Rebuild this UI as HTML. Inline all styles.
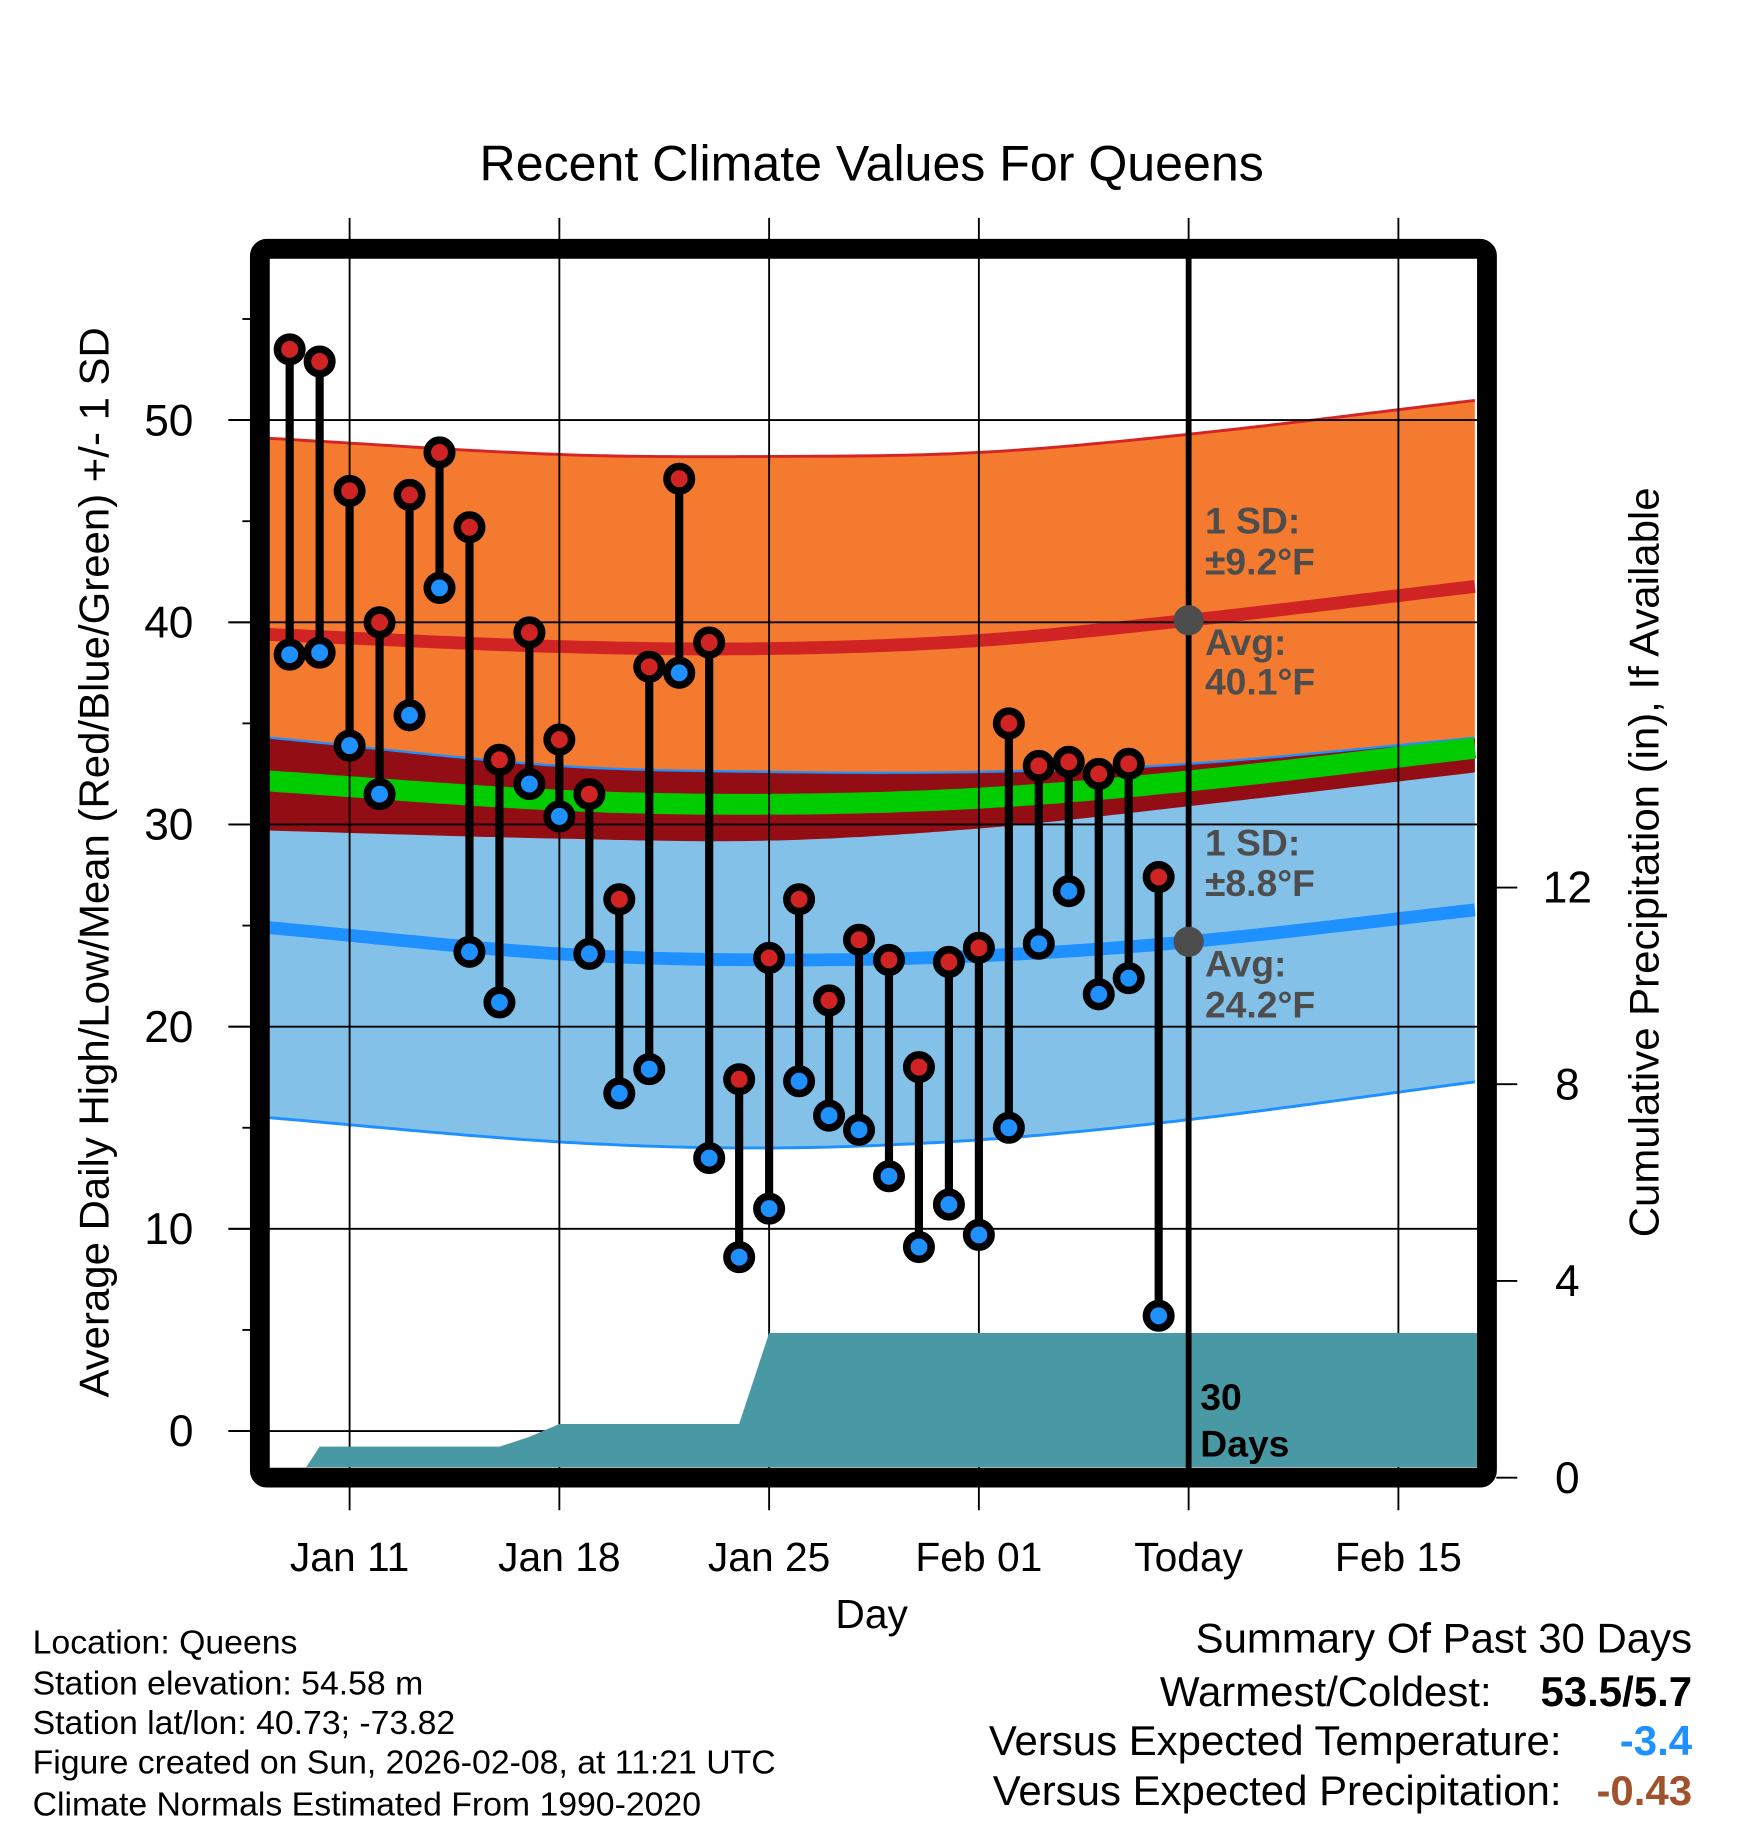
<!DOCTYPE html>
<html><head><meta charset="utf-8"><style>
html,body{margin:0;padding:0;background:#fff;}
svg{display:block;font-family:"Liberation Sans",sans-serif;}
</style></head><body>
<svg id="chart" width="1748" height="1828" viewBox="0 0 1500 1568.65" xmlns="http://www.w3.org/2000/svg">
<defs><clipPath id="plotclip"><rect x="231" y="222" width="1037" height="1037"/></clipPath></defs>
<text x="748" y="155" font-size="43" text-anchor="middle">Recent Climate Values For Queens</text>
<g id="bands" clip-path="url(#plotclip)"></g>
<g id="grid"></g>
<g id="precip" clip-path="url(#plotclip)"></g>
<g id="marks"></g>
<g id="ann"></g>
<rect x="223" y="213.5" width="1053" height="1054.5" rx="6" fill="none" stroke="#000" stroke-width="17"/>
<g id="axes"></g>
<text x="748" y="1397" font-size="35" text-anchor="middle">Day</text>
<text transform="translate(93,740) rotate(-90)" font-size="36" text-anchor="middle">Average Daily High/Low/Mean (Red/Blue/Green) +/- 1 SD</text>
<text transform="translate(1423,740) rotate(-90)" font-size="36" text-anchor="middle">Cumulative Precipitation (in), If Available</text>
<g font-size="29">
<text x="28" y="1419">Location: Queens</text>
<text x="28" y="1454">Station elevation: 54.58 m</text>
<text x="28" y="1488">Station lat/lon: 40.73; -73.82</text>
<text x="28" y="1522">Figure created on Sun, 2026-02-08, at 11:21 UTC</text>
<text x="28" y="1558">Climate Normals Estimated From 1990-2020</text>
</g>
<g font-size="36">
<text x="1452" y="1418" text-anchor="end">Summary Of Past 30 Days</text>
<text x="1280" y="1464" text-anchor="end">Warmest/Coldest:</text>
<text x="1452" y="1464" text-anchor="end" font-weight="bold">53.5/5.7</text>
<text x="1340" y="1506" text-anchor="end">Versus Expected Temperature:</text>
<text x="1452" y="1506" text-anchor="end" font-weight="bold" fill="#1e90ff">-3.4</text>
<text x="1340" y="1549" text-anchor="end">Versus Expected Precipitation:</text>
<text x="1452" y="1549" text-anchor="end" font-weight="bold" fill="#a0522d">-0.43</text>
</g>
</svg>
<script>
// day index: 0 = Jan 11
const days=[-2,-1,0,1,2,3,4,5,6,7,8,9,10,11,12,13,14,15,16,17,18,19,20,21,22,23,24,25,26,27];
const highs=[53.5,52.9,46.5,40.0,46.3,48.4,44.7,33.2,39.5,34.2,31.5,26.3,37.8,47.1,39.0,17.4,23.4,26.3,21.3,24.3,23.3,18.0,23.2,23.9,35.0,32.9,33.1,32.5,33.0,27.4];
const lows=[38.4,38.5,33.9,31.5,35.4,41.7,23.7,21.2,32.0,30.4,23.6,16.7,17.9,37.5,13.5,8.6,11.0,17.3,15.6,14.9,12.6,9.1,11.2,9.7,15.0,24.1,26.7,21.6,22.4,5.7];
const precipCum=[0,0.63,0.63,0.63,0.63,0.63,0.63,0.63,0.83,1.09,1.09,1.09,1.09,1.09,1.09,1.09,2.94,2.94,2.94,2.94,2.94,2.94,2.94,2.94,2.94,2.94,2.94,2.94,2.94,2.94];
const normDays=[-2.7,7,14,21,28,37.7];
const avgHigh=[39.4,38.8,38.7,39.1,40.1,41.8];
const sdHigh=[9.7,9.5,9.5,9.3,9.2,9.2];
const avgLow=[24.9,23.6,23.3,23.5,24.2,25.8];
const sdLow=[9.4,9.3,9.3,9.1,8.8,8.5];
const yTicks=[0,10,20,30,40,50];
const y2Ticks=[0,4,8,12];
const xTickDays=[0,7,14,21,28,35];
const xTickLabels=["Jan 11","Jan 18","Jan 25","Feb 01","Today","Feb 15"];
const todayDay=28;

const NS="http://www.w3.org/2000/svg";
const X=d=>300+d*25.714;
const Y=v=>1228-v*17.35;
const Y2=p=>1268-p*42.2;
function mk(tag,attrs,parent){const e=document.createElementNS(NS,tag);for(const k in attrs)e.setAttribute(k,attrs[k]);parent.appendChild(e);return e;}
// Catmull-Rom style smooth interpolation through normals
function interp(arr,d){
  const n=normDays.length;
  if(d<=normDays[0])return arr[0];
  if(d>=normDays[n-1])return arr[n-1];
  let i=0;while(d>normDays[i+1])i++;
  const t=(d-normDays[i])/(normDays[i+1]-normDays[i]);
  const slope=k=>{const a=Math.max(0,k-1),b=Math.min(n-1,k+1);return (arr[b]-arr[a])/(normDays[b]-normDays[a]);};
  const h=normDays[i+1]-normDays[i];
  const m0=slope(i)*h,m1=slope(i+1)*h;
  const t2=t*t,t3=t2*t;
  return (2*t3-3*t2+1)*arr[i]+(t3-2*t2+t)*m0+(-2*t3+3*t2)*arr[i+1]+(t3-t2)*m1;
}
const samp=[];for(let d=normDays[0];d<=normDays[normDays.length-1]+0.001;d+=0.25)samp.push(d);
const pts=f=>samp.map(d=>X(d).toFixed(1)+","+Y(f(d)).toFixed(1));
const band=(up,lo)=>pts(up).concat(pts(lo).reverse()).join(" ");
const bands=document.getElementById('bands');
const hUp=d=>interp(avgHigh,d)+interp(sdHigh,d), hLo=d=>interp(avgHigh,d)-interp(sdHigh,d);
const lUp=d=>interp(avgLow,d)+interp(sdLow,d), lLo=d=>interp(avgLow,d)-interp(sdLow,d);
let e;
e=mk('polygon',{points:band(hUp,hLo),fill:'#f47a2f'},bands);

e=mk('polygon',{points:band(lUp,lLo),fill:'#84c1e8'},bands);

e=mk('polygon',{points:band(d=>Math.min(lUp(d),hUp(d)),d=>Math.max(hLo(d),lLo(d))),fill:'#930d14'},bands);

e=mk('polyline',{points:pts(hUp).join(" "),fill:'none',stroke:'#d42424','stroke-width':2.5},bands);

e=mk('polyline',{points:pts(lUp).join(" "),fill:'none',stroke:'#1e90ff','stroke-width':2},bands);

e=mk('polyline',{points:pts(lLo).join(" "),fill:'none',stroke:'#1e90ff','stroke-width':2.5},bands);

e=mk('polyline',{points:pts(d=>interp(avgHigh,d)).join(" "),fill:'none',stroke:'#d02424','stroke-width':11},bands);

e=mk('polyline',{points:pts(d=>interp(avgLow,d)).join(" "),fill:'none',stroke:'#1e90ff','stroke-width':11},bands);

e=mk('polyline',{points:pts(d=>(interp(avgHigh,d)+interp(avgLow,d))/2).join(" "),fill:'none',stroke:'#00cc00','stroke-width':18},bands);


const grid=document.getElementById('grid');
yTicks.forEach(v=>{e=mk('line',{x1:196,x2:1268,y1:Y(v),y2:Y(v),stroke:'#000','stroke-width':1.6},grid);
});
xTickDays.forEach(d=>{e=mk('line',{x1:X(d),x2:X(d),y1:187,y2:1296,stroke:'#000','stroke-width':1.6},grid);
});

const pg=document.getElementById('precip');
let pp=[X(days[0])+"," +Y2(-0.3)];
for(let i=1;i<days.length;i++){pp.push(X(days[i])+","+Y2(precipCum[i]));}
pp.push(X(37.7)+","+Y2(precipCum[precipCum.length-1]));
pp.push(X(37.7)+","+Y2(-0.5));pp.push(X(days[0])+","+Y2(-0.5));
e=mk('polygon',{points:pp.join(" "),fill:'#4899a3'},pg);


const marks=document.getElementById('marks');
days.forEach((d,i)=>{
  const g=mk('g',{},marks);
  
  e=mk('line',{x1:X(d),x2:X(d),y1:Y(highs[i]),y2:Y(lows[i]),stroke:'#000','stroke-width':7},g);
  
  e=mk('circle',{cx:X(d),cy:Y(highs[i]),r:10.5,fill:'#d02424',stroke:'#000','stroke-width':6.5},g);
  
  e=mk('circle',{cx:X(d),cy:Y(lows[i]),r:10.5,fill:'#1e90ff',stroke:'#000','stroke-width':6.5},g);
  
});

const ann=document.getElementById('ann');
e=mk('line',{x1:X(todayDay),x2:X(todayDay),y1:214,y2:1262,stroke:'#000','stroke-width':5},ann);

e=mk('circle',{cx:X(todayDay),cy:Y(interp(avgHigh,todayDay)),r:13,fill:'#4d4d4d'},ann);

e=mk('circle',{cx:X(todayDay),cy:Y(interp(avgLow,todayDay)),r:13,fill:'#4d4d4d'},ann);

const labs=[["1 SD:",458],["±9.2°F",493],["Avg:",562],["40.1°F",596],["1 SD:",734],["±8.8°F",769],["Avg:",838],["24.2°F",873]];
labs.forEach(l=>{e=mk('text',{x:1034,y:l[1],'font-size':32,'font-weight':'bold',fill:'#4d4d4d'},ann);e.textContent=l[0];
});
[["30",1210],["Days",1250]].forEach(l=>{e=mk('text',{x:1030,y:l[1],'font-size':32,'font-weight':'bold',fill:'#000'},ann);e.textContent=l[0];
});

const axes=document.getElementById('axes');
for(let v=0;v<=55;v+=5){const big=v%10===0;
  e=mk('line',{x1:big?196:208,x2:216,y1:Y(v),y2:Y(v),stroke:'#000','stroke-width':1.6},axes);
  }
yTicks.forEach(v=>{e=mk('text',{x:166,y:Y(v)+13,'font-size':38,'text-anchor':'end'},axes);e.textContent=v;
});
y2Ticks.forEach(p=>{e=mk('line',{x1:1284,x2:1302,y1:Y2(p),y2:Y2(p),stroke:'#000','stroke-width':1.6},axes);

e=mk('text',{x:1345,y:Y2(p)+13,'font-size':38,'text-anchor':'middle'},axes);e.textContent=p;
});
xTickDays.forEach((d,i)=>{e=mk('text',{x:X(d),y:1348,'font-size':35,'text-anchor':'middle'},axes);e.textContent=xTickLabels[i];
});
</script>
</body></html>
